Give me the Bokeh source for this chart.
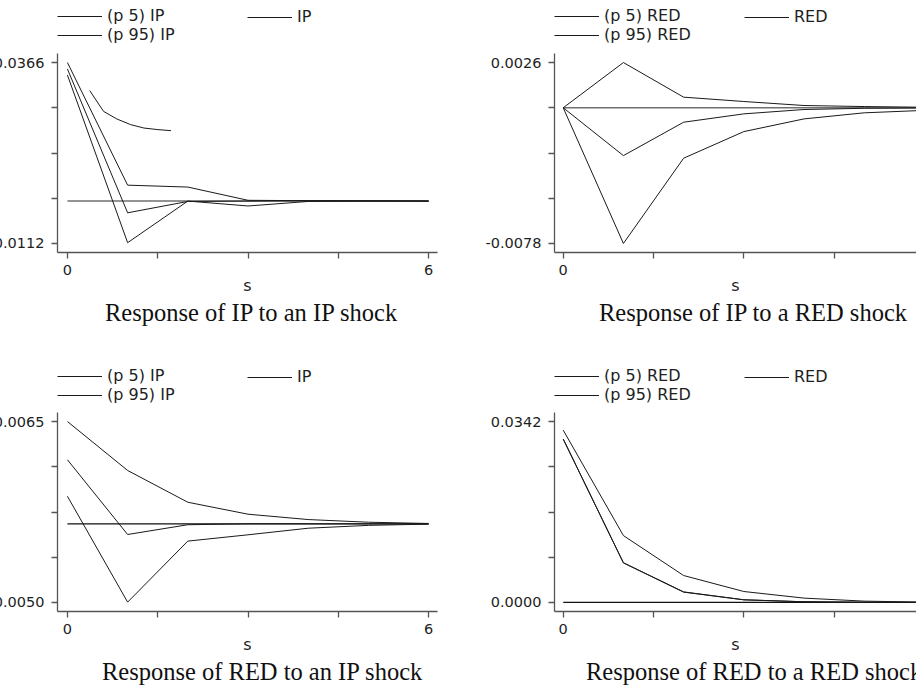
from bokeh.plotting import figure
from bokeh.layouts import column, row
from bokeh.models import Range1d, FixedTicker, Legend, LegendItem, Div
from bokeh.embed import file_html
from bokeh.resources import INLINE

# ---------------- data ----------------
steps = [0, 1, 2, 3, 4, 5, 6]
zero = [0.0, 0.0, 0.0, 0.0, 0.0, 0.0, 0.0]
x_ticks = [0, 1.5, 3, 4.5, 6]
x_tick_labels = ["0", "", "", "", "6"]

# Response of IP to an IP shock
ip_ip_p5 = [0.0333, -0.0110, 0.0000, -0.0013, -0.0001, 0.0000, 0.0000]
ip_ip_mid = [0.0349, -0.0031, -0.0001, 0.0000, 0.0001, 0.0000, 0.0000]
ip_ip_p95 = [0.0366, 0.0042, 0.0037, 0.0002, 0.0001, 0.0001, 0.0000]
ip_ip_extra_s = [0.37, 0.60, 0.82, 1.05, 1.27, 1.49, 1.72]
ip_ip_extra_v = [0.0292, 0.0237, 0.0217, 0.0202, 0.0193, 0.0189, 0.0186]
ip_ip_yticks = [-0.0112, 0.00075, 0.0127, 0.02465, 0.0366]
ip_ip_ylabels = ["-0.0112", "", "", "", "0.0366"]

# Response of IP to a RED shock
ip_red_p5 = [0.0, -0.0078, -0.0029, -0.00137, -0.00064, -0.00029, -0.00015]
ip_red_mid = [0.0, -0.00275, -0.00083, -0.00035, -0.00010, -0.00003, -0.00001]
ip_red_p95 = [0.0, 0.0026, 0.00061, 0.00036, 0.00013, 0.00007, 0.00003]
ip_red_yticks = [-0.0078, -0.0052, -0.0026, 0.0, 0.0026]
ip_red_ylabels = ["-0.0078", "", "", "", "0.0026"]

# Response of RED to an IP shock
red_ip_p5 = [0.00175, -0.00498, -0.0011, -0.0007, -0.00028, -0.0001, -0.00002]
red_ip_mid = [0.00407, -0.00068, -0.00006, 0.0, 0.0, 0.0, 0.0]
red_ip_p95 = [0.0065, 0.00339, 0.00137, 0.00061, 0.00027, 0.0001, 0.00002]
red_ip_yticks = [-0.005, -0.002125, 0.00075, 0.003625, 0.0065]
red_ip_ylabels = ["-0.0050", "", "", "", "0.0065"]

# Response of RED to a RED shock
red_red_p5 = [0.03087, 0.00748, 0.00195, 0.0005, 0.00013, 0.00003, 0.0]
red_red_mid = [0.0309, 0.0075, 0.0020, 0.0005, 0.00013, 0.00003, 0.0]
red_red_p95 = [0.03257, 0.01264, 0.00509, 0.00207, 0.00082, 0.00025, 0.00006]
red_red_yticks = [0.0, 0.00855, 0.0171, 0.02565, 0.0342]
red_red_ylabels = ["0.0000", "", "", "", "0.0342"]

ip_names = ["(p 5) IP", "IP", "(p 95) IP"]
red_names = ["(p 5) RED", "RED", "(p 95) RED"]

captions = ["Response of IP to an IP shock", "Response of IP to a RED shock",
            "Response of RED to an IP shock", "Response of RED to a RED shock"]

SANS = "DejaVu Sans"
SERIF = "Liberation Serif"
AX = "#555555"
TXT = "#1e1e1e"
LINE = "#1a1a1a"

FRAME_H = 199
AXIS_H = 48
CAP_H = 30


def legend_fig(width, height, bl, br, names, series, leg_y):
    # the key's own figure: the series are drawn here too, but outside its view,
    # so that only the legend samples show
    f = figure(width=width, height=height, output_backend="svg", toolbar_location=None,
               x_range=Range1d(100, 101), y_range=Range1d(100, 101),
               x_axis_type=None, y_axis_type=None,
               min_border_left=bl, min_border_right=br, min_border_top=0, min_border_bottom=0)
    f.xgrid.visible = False
    f.ygrid.visible = False
    f.outline_line_color = None
    f.border_fill_color = "white"
    lo, mid, hi = series
    r_lo = f.line(steps, lo, line_color=LINE, line_width=1.1)
    r_mid = f.line(steps, mid, line_color=LINE, line_width=1.1)
    r_hi = f.line(steps, hi, line_color=LINE, line_width=1.1)
    common = dict(border_line_color=None, background_fill_alpha=0, padding=0, margin=0,
                  spacing=0, glyph_width=45, glyph_height=18, label_height=18,
                  label_standoff=5, label_text_font=SANS, label_text_font_size="16px",
                  label_text_color=TXT)
    leg1 = Legend(items=[LegendItem(label=names[0], renderers=[r_lo]),
                         LegendItem(label=names[2], renderers=[r_hi])],
                  location=(0, leg_y), **common)
    leg2 = Legend(items=[LegendItem(label=names[1], renderers=[r_mid])],
                  location=(190, leg_y + 18), **common)
    f.add_layout(leg1)
    f.add_layout(leg2)
    return f


def plot_fig(width, bl, br, xr, yticks, ylabels, series, zero_color, zero_width, extra=None):
    span = yticks[-1] - yticks[0]
    yr = (yticks[0] - 0.05 * span, yticks[-1] + 0.05 * span)
    p = figure(width=width, height=FRAME_H + AXIS_H, output_backend="svg",
               toolbar_location=None, x_range=Range1d(*xr), y_range=Range1d(*yr),
               min_border_left=bl, min_border_right=br, min_border_top=0,
               min_border_bottom=AXIS_H)
    p.xgrid.visible = False
    p.ygrid.visible = False
    p.outline_line_color = None
    p.background_fill_color = "white"
    p.border_fill_color = "white"

    p.line(steps, zero, line_color=zero_color, line_width=zero_width)
    lo, mid, hi = series
    p.line(steps, lo, line_color=LINE, line_width=1)
    p.line(steps, mid, line_color=LINE, line_width=1)
    p.line(steps, hi, line_color=LINE, line_width=1)
    if extra is not None:
        p.line(extra[0], extra[1], line_color=LINE, line_width=1)

    xa = p.xaxis[0]
    ya = p.yaxis[0]
    xa.ticker = FixedTicker(ticks=x_ticks)
    xa.major_label_overrides = {t: l for t, l in zip(x_ticks, x_tick_labels)}
    ya.ticker = FixedTicker(ticks=yticks)
    ya.major_label_overrides = {t: l for t, l in zip(yticks, ylabels)}
    for ax in (xa, ya):
        ax.axis_line_color = AX
        ax.axis_line_width = 1.3
        ax.major_tick_line_color = AX
        ax.major_tick_line_width = 1.3
        ax.major_tick_out = 6
        ax.major_tick_in = 0
        ax.minor_tick_line_color = None
        ax.major_label_text_font = SANS
        ax.major_label_text_font_size = "14.5px"
        ax.major_label_text_color = TXT
    ya.major_label_standoff = 7
    xa.major_label_standoff = 6
    xa.axis_label = "s"
    xa.axis_label_text_font = SANS
    xa.axis_label_text_font_size = "16px"
    xa.axis_label_text_font_style = "normal"
    xa.axis_label_text_color = TXT
    xa.axis_label_standoff = -2
    return p


def caption_div(width, text, indent):
    return Div(text=text, width=width, height=CAP_H,
               styles={"font-family": SERIF, "font-size": "24.5px", "line-height": "26px",
                       "white-space": "nowrap", "overflow": "hidden", "color": "#111111",
                       "text-indent": f"{indent}px", "margin": "0", "padding": "0"})


LW, RW = 498, 436
LEG_TOP, LEG_BOT = 53, 82
left_xr = (-0.165, 6.148)
right_xr = (-0.145, 5.869)

s1 = (ip_ip_p5, ip_ip_mid, ip_ip_p95)
s2 = (ip_red_p5, ip_red_mid, ip_red_p95)
s3 = (red_ip_p5, red_ip_mid, red_ip_p95)
s4 = (red_red_p5, red_red_mid, red_red_p95)

c1 = column(legend_fig(LW, LEG_TOP, 75, 43, ip_names, s1, 9),
            plot_fig(LW, 75, 43, left_xr, ip_ip_yticks, ip_ip_ylabels, s1, "#707070", 1.6,
                     extra=(ip_ip_extra_s, ip_ip_extra_v)),
            caption_div(LW, captions[0], 123))
c2 = column(legend_fig(RW, LEG_TOP, 74, 0, red_names, s2, 9),
            plot_fig(RW, 74, 0, right_xr, ip_red_yticks, ip_red_ylabels, s2, "#707070", 1.6),
            caption_div(RW, captions[1], 119))
c3 = column(legend_fig(LW, LEG_BOT, 75, 43, ip_names, s3, 8),
            plot_fig(LW, 75, 43, left_xr, red_ip_yticks, red_ip_ylabels, s3, "#111111", 1.3),
            caption_div(LW, captions[2], 120))
c4 = column(legend_fig(RW, LEG_BOT, 74, 0, red_names, s4, 8),
            plot_fig(RW, 74, 0, right_xr, red_red_yticks, red_red_ylabels, s4, "#111111", 1.3),
            caption_div(RW, captions[3], 106))

layout = column(row(c1, c2), row(c3, c4), margin=(0, 0, 0, -18))

open("out.html", "w").write(file_html(layout, INLINE))
